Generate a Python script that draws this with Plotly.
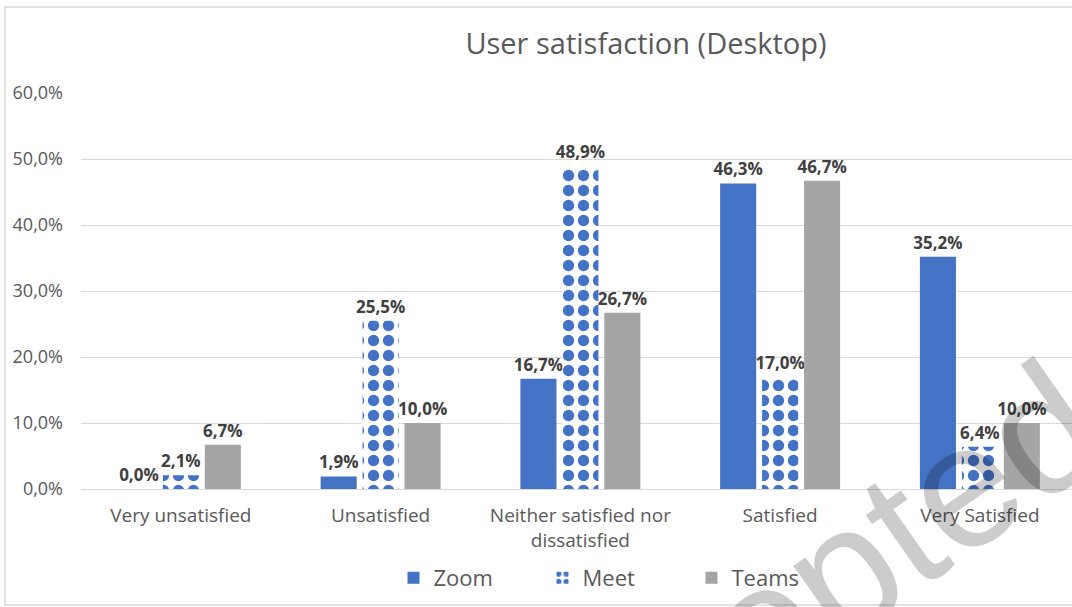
import plotly.graph_objects as go

categories = ["Very unsatisfied", "Unsatisfied", "Neither satisfied nor<br>dissatisfied", "Satisfied", "Very Satisfied"]
zoom = [0.0, 1.9, 16.7, 46.3, 35.2]
meet = [2.1, 25.5, 48.9, 17.0, 6.4]
teams = [6.7, 10.0, 26.7, 46.7, 10.0]
y_ticks = [0, 10, 20, 30, 40, 50, 60]
y_tick_text = [f"{v:.1f}%".replace(".", ",") for v in y_ticks]

W, H = 1072, 607
ML, MR, MT, MB = 81, 0, 93, 118
PW = W - ML - MR
PH = H - MT - MB

def px_to_paper_x(px):
    return (px - ML) / PW

def px_to_paper_y(py):
    return (H - MB - py) / PH

FONT = "Open Sans"
label_font = dict(family=FONT, size=17, color="#404040")

common = dict(
    texttemplate="<b>%{y:.1f}%</b>",
    textposition="outside",
    textfont=label_font,
    constraintext="none",
    cliponaxis=False,
)

fig = go.Figure()
fig.add_trace(go.Bar(name="Zoom", x=categories, y=zoom,
                     marker=dict(color="#4472C4", line=dict(width=0)), **common))
fig.add_trace(go.Bar(name="Meet", x=categories, y=meet,
                     marker=dict(color="white", line=dict(width=0),
                                 pattern=dict(shape=".", fgcolor="#4472C4", bgcolor="white",
                                              size=15, solidity=0.45, fillmode="replace")),
                     **common))
fig.add_trace(go.Bar(name="Teams", x=categories, y=teams,
                     marker=dict(color="#A5A5A5", line=dict(width=0)), **common))

x_span = PW / 199.75

fig.update_layout(
    width=W, height=H,
    margin=dict(l=ML, r=MR, t=MT, b=MB, autoexpand=False),
    paper_bgcolor="white", plot_bgcolor="white",
    separators=",.",
    barmode="group", bargap=0.37, bargroupgap=0.14,
    font=dict(family=FONT, color="#595959"),
    title=dict(text="User satisfaction (Desktop)", x=646 / W, xref="container",
               y=1 - 44 / H, yref="container", xanchor="center", yanchor="middle",
               font=dict(family=FONT, size=29, color="#595959")),
    legend=dict(orientation="h", x=px_to_paper_x(617), xanchor="center",
                y=px_to_paper_y(578), yanchor="middle",
                font=dict(family=FONT, size=22, color="#595959"),
                entrywidth=104, entrywidthmode="pixels",
                bgcolor="rgba(0,0,0,0)"),
    showlegend=True,
)

fig.update_yaxes(range=[0, 60], tickvals=y_ticks, ticktext=y_tick_text,
                 showgrid=True, gridcolor="#d9d9d9", gridwidth=1,
                 zeroline=True, zerolinecolor="#d9d9d9", zerolinewidth=1,
                 showline=False, ticks="", ticklabelstandoff=17,
                 tickfont=dict(family=FONT, size=18, color="#595959"))
fig.update_xaxes(type="category", range=[-0.5, -0.5 + x_span],
                 showline=False, ticks="", showgrid=False, ticklabelstandoff=13,
                 tickfont=dict(family=FONT, size=19, color="#595959"))

# chart area border
fig.add_shape(type="rect", xref="paper", yref="paper",
              x0=px_to_paper_x(5), x1=px_to_paper_x(1085),
              y0=px_to_paper_y(605), y1=px_to_paper_y(7),
              line=dict(color="#d9d9d9", width=1.5), fillcolor="rgba(0,0,0,0)", layer="below")

# watermark
fig.add_annotation(text="Accepted", xref="paper", yref="paper",
                   x=px_to_paper_x(782), y=px_to_paper_y(612),
                   xanchor="center", yanchor="middle", textangle=-35, showarrow=False,
                   font=dict(family="Liberation Sans", size=175, color="rgba(0,0,0,0.2)"))

fig.write_html("out.html", config={"displayModeBar": False},
               post_script="document.body.style.margin='0px';")
